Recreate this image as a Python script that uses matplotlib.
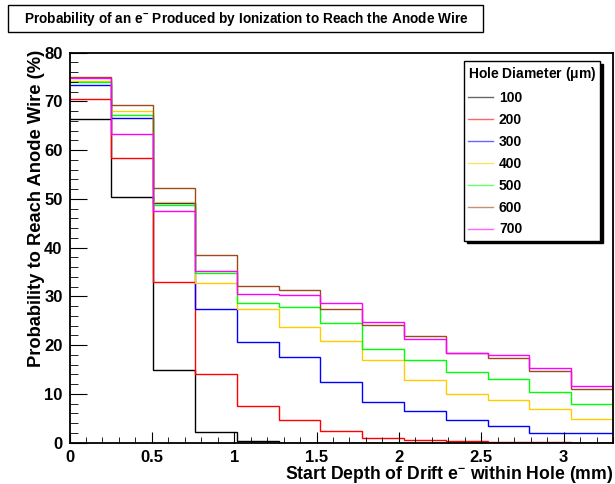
import numpy as np
import matplotlib.pyplot as plt
from matplotlib.patches import Rectangle
from matplotlib.ticker import MultipleLocator

plt.rcParams['font.family'] = 'Liberation Sans'
plt.rcParams['font.weight'] = 'bold'
plt.rcParams['mathtext.fontset'] = 'custom'
plt.rcParams['mathtext.rm'] = 'Liberation Sans:bold'
plt.rcParams['mathtext.default'] = 'rm'

# 13 depth bins between 0 and 3.3 mm
bin_edges = np.linspace(0, 3.3, 14)

diameters = ['100', '200', '300', '400', '500', '600', '700']
colors = ['black', '#ff0000', '#0000ff', '#ffcc00', '#00ff00', '#9c4a1a', '#ff00ff']

# probability (%) per bin for each hole diameter
prob_100 = [66.3, 50.5, 14.9, 2.2, 0.4, 0.0, 0.0, 0.0, 0.0, 0.0, 0.0, 0.0, 0.0]
prob_200 = [70.6, 58.5, 32.9, 14.1, 7.6, 4.7, 2.3, 0.9, 0.5, 0.3, 0.1, 0.05, 0.0]
prob_300 = [73.3, 66.6, 49.2, 27.4, 20.7, 17.5, 12.4, 8.3, 6.6, 4.7, 3.5, 2.0, 1.9]
prob_400 = [74.2, 68.1, 49.4, 32.7, 27.4, 23.8, 20.9, 16.9, 12.8, 10.0, 8.7, 7.0, 4.9]
prob_500 = [74.0, 67.3, 48.7, 34.9, 28.6, 27.9, 24.6, 19.2, 16.9, 14.5, 13.0, 10.5, 7.9]
prob_600 = [75.0, 69.3, 52.3, 38.6, 32.2, 31.3, 27.4, 24.1, 21.9, 18.5, 17.3, 14.7, 11.0]
prob_700 = [74.9, 63.3, 47.6, 35.3, 30.6, 30.3, 28.7, 24.8, 21.3, 18.3, 18.0, 15.4, 11.7]

all_probs = [prob_100, prob_200, prob_300, prob_400, prob_500, prob_600, prob_700]

fig = plt.figure(figsize=(6.15, 4.84), dpi=100)
ax = fig.add_axes([69.5/615, 41.3/484, 543.5/615, 390/484])

for vals, col, lab in zip(all_probs, colors, diameters):
    ax.stairs(vals, bin_edges, color=col, lw=1.0, baseline=None, label=lab)

ax.set_xlim(0, 3.3)
ax.set_ylim(0, 80)
ax.xaxis.set_major_locator(MultipleLocator(0.5))
ax.xaxis.set_minor_locator(MultipleLocator(0.1))
ax.yaxis.set_major_locator(MultipleLocator(10))
ax.yaxis.set_minor_locator(MultipleLocator(2))
ax.xaxis.set_major_formatter(plt.FuncFormatter(lambda v, p: '%g' % v))
ax.tick_params(which='both', direction='in', top=False, right=False, labelsize=12)
ax.tick_params(axis='y', which='major', length=12, pad=5)
ax.tick_params(axis='y', which='minor', length=5.8)
ax.tick_params(axis='x', which='major', length=8, pad=5)
ax.tick_params(axis='x', which='minor', length=4)
for sp in ax.spines.values():
    sp.set_linewidth(1.3)

ax.set_xlabel(r'Start Depth of Drift e$^{-}$ within Hole (mm)', fontsize=12.7,
              fontweight='bold', ha='right', va='top')
ax.xaxis.set_label_coords(1.0, -0.055)
ax.set_ylabel('Probability to Reach Anode Wire (%)', fontsize=13.2,
              fontweight='bold', ha='right', va='top')
ax.yaxis.set_label_coords(-0.076, 1.008)

leg = ax.legend(loc='upper left', bbox_to_anchor=(0.7262, 0.525, 0.2502, 0.454),
                mode='expand', title=r'Hole Diameter ($\mu$m)', alignment='left',
                fontsize=10, title_fontproperties={'weight': 'bold', 'size': 10},
                handlelength=1.8, handletextpad=0.4, labelspacing=0.57,
                borderaxespad=0, borderpad=0.3, fancybox=False,
                shadow={'color': 'black', 'alpha': 1.0})
leg.get_frame().set_edgecolor('black')
leg.get_frame().set_linewidth(1.0)
for h in leg.get_lines():
    h.set_alpha(0.6)

# title box
fig.patches.append(Rectangle((8/615, 1 - 32/484), 475/615, 27/484,
                             transform=fig.transFigure, fill=False,
                             edgecolor='black', lw=1.0))
fig.text(246.5/615, 1 - 18.5/484,
         r'Probability of an e$^{-}$ Produced by Ionization to Reach the Anode Wire',
         ha='center', va='center', fontsize=9.8, fontweight='bold')

fig.savefig('out.png', dpi=100)
